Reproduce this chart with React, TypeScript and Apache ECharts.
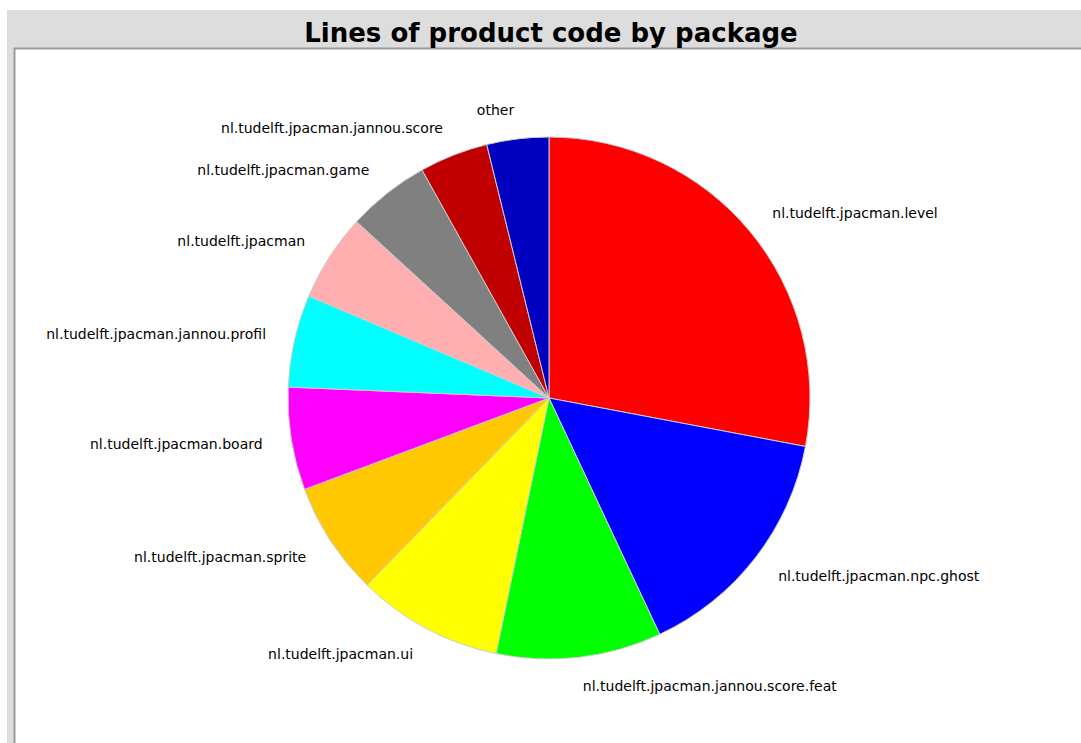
import React, { useEffect, useRef } from "react";
import * as echarts from "echarts";

const titleText = "Lines of product code by package";

const packages = [
  "nl.tudelft.jpacman.level",
  "nl.tudelft.jpacman.npc.ghost",
  "nl.tudelft.jpacman.jannou.score.feat",
  "nl.tudelft.jpacman.ui",
  "nl.tudelft.jpacman.sprite",
  "nl.tudelft.jpacman.board",
  "nl.tudelft.jpacman.jannou.profil",
  "nl.tudelft.jpacman",
  "nl.tudelft.jpacman.game",
  "nl.tudelft.jpacman.jannou.score",
  "other",
];

const linesOfCode = [1007, 542, 368, 325, 253, 229, 206, 195, 184, 153, 138];

const sliceColors = [
  "#ff0000",
  "#0000ff",
  "#00ff00",
  "#ffff00",
  "#ffc800",
  "#ff00ff",
  "#00ffff",
  "#ffafaf",
  "#808080",
  "#c00000",
  "#0000c0",
];

export default function App() {
  const ref = useRef<HTMLDivElement>(null);

  useEffect(() => {
    if (!ref.current) return;
    const chart = echarts.init(ref.current, null, { renderer: "svg" });
    const data = packages.map((name, i) => ({
      name,
      value: linesOfCode[i],
      itemStyle: { color: sliceColors[i] },
    }));
    chart.setOption({
      animation: false,
      backgroundColor: "#ffffff",
      title: {
        text: titleText,
        left: 546,
        textAlign: "center",
        top: 15,
        textStyle: {
          fontFamily: "DejaVu Sans",
          fontWeight: "bold",
          fontSize: 26,
          color: "#000000",
        },
      },
      graphic: [
        {
          type: "rect",
          z: -10,
          shape: { x: 7, y: 10, width: 1080, height: 740 },
          style: { fill: "#dddddd" },
          silent: true,
        },
        {
          type: "rect",
          z: -9,
          shape: { x: 14.5, y: 48.5, width: 1080, height: 720 },
          style: { fill: "#ffffff", stroke: "#9a9a9a", lineWidth: 2 },
          silent: true,
        },
      ],
      series: [
        {
          type: "pie",
          center: [549, 398],
          radius: 261,
          startAngle: 90,
          clockwise: true,
          avoidLabelOverlap: false,
          itemStyle: { borderColor: "#cccccc", borderWidth: 1 },
          label: {
            show: true,
            position: "outside",
            distanceToLabelLine: 0,
            fontFamily: "DejaVu Sans",
            fontSize: 14,
            color: "#000000",
            formatter: "{b}",
          },
          labelLine: { show: false, length: 29, length2: 0 },
          emphasis: { disabled: true },
          data,
        },
      ],
    });
    return () => chart.dispose();
  }, []);

  return (
    <div
      ref={ref}
      style={{ position: "absolute", left: 0, top: 0, width: 1081, height: 743 }}
    />
  );
}
